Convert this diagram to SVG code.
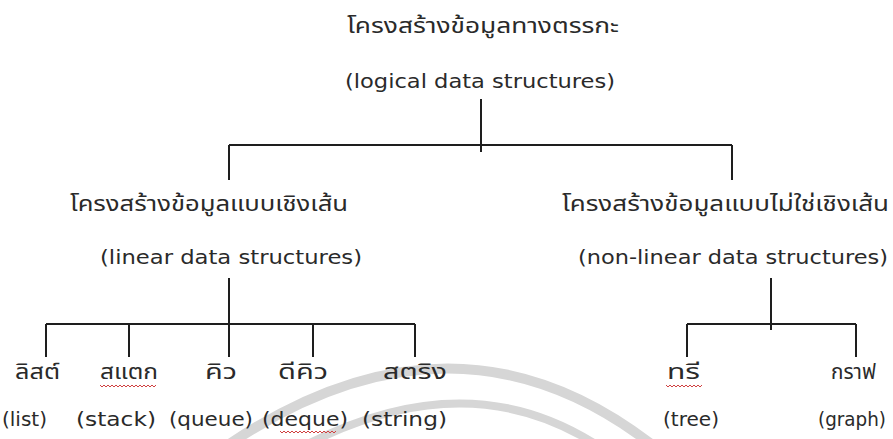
<svg xmlns="http://www.w3.org/2000/svg" width="893" height="439" viewBox="0 0 893 439">
<style>
.th{font-family:"Noto Sans Thai","Noto Sans","DejaVu Sans",sans-serif;font-size:21px;fill:#2a2a2a;}
.en{font-family:"DejaVu Sans","Liberation Sans",sans-serif;font-size:20px;fill:#2a2a2a;}
.ln{stroke:#1e1e1e;stroke-width:2;fill:none;}
.wm{stroke:#d6d6d6;fill:none;}
.sq{stroke:#d04040;stroke-width:1;fill:none;}
</style>
<rect width="893" height="439" fill="#ffffff"/>
<g id="watermark">
<path class="wm" stroke-width="10" d="M225 447 Q455 290 655 447"/>
<path class="wm" stroke-width="8" d="M302 447 Q468 360 600 447"/>
</g>
<g id="connectors">
<path class="ln" d="M481 99 V152 M229 145 H732 M229 145 V180 M732 145 V180"/>
<path class="ln" d="M229 278 V357 M46 324 H415 M46 324 V357 M129 324 V357 M313 324 V357 M415 324 V357"/>
<path class="ln" d="M771 278 V330 M687 324 H856 M687 324 V357 M856 324 V357"/>
</g>
<g id="root">
<text class="th" x="347" y="33" textLength="272" lengthAdjust="spacingAndGlyphs">โครงสร้างข้อมูลทางตรรกะ</text>
<text class="en" x="345" y="88" textLength="270" lengthAdjust="spacingAndGlyphs">(logical data structures)</text>
</g>
<g id="linear">
<text class="th" x="70" y="211" textLength="278" lengthAdjust="spacingAndGlyphs">โครงสร้างข้อมูลแบบเชิงเส้น</text>
<text class="en" x="100" y="264" textLength="262" lengthAdjust="spacingAndGlyphs">(linear data structures)</text>
</g>
<g id="nonlinear">
<text class="th" x="562" y="211" textLength="327" lengthAdjust="spacingAndGlyphs">โครงสร้างข้อมูลแบบไม่ใช่เชิงเส้น</text>
<text class="en" x="578" y="264" textLength="310" lengthAdjust="spacingAndGlyphs">(non-linear data structures)</text>
</g>
<g id="list">
<text class="th" x="15" y="379" textLength="45" lengthAdjust="spacingAndGlyphs">ลิสต์</text>
<text class="en" x="2" y="426" textLength="45" lengthAdjust="spacingAndGlyphs">(list)</text>
</g>
<g id="stack">
<text class="th" x="100" y="379" textLength="58" lengthAdjust="spacingAndGlyphs">สแตก</text>
<path class="sq" d="M100 385 l2 2 l2 -2 l2 2 l2 -2 l2 2 l2 -2 l2 2 l2 -2 l2 2 l2 -2 l2 2 l2 -2 l2 2 l2 -2 l2 2 l2 -2 l2 2 l2 -2 l2 2 l2 -2 l2 2 l2 -2 l2 2 l2 -2 l2 2 l2 -2 l2 2 l2 -2"/>
<text class="en" x="76" y="426" textLength="80" lengthAdjust="spacingAndGlyphs">(stack)</text>
</g>
<g id="queue">
<text class="th" x="205" y="379" textLength="32" lengthAdjust="spacingAndGlyphs">คิว</text>
<text class="en" x="169" y="426" textLength="84" lengthAdjust="spacingAndGlyphs">(queue)</text>
</g>
<g id="deque">
<text class="th" x="278" y="379" textLength="50" lengthAdjust="spacingAndGlyphs">ดีคิว</text>
<text class="en" x="262" y="426" textLength="86" lengthAdjust="spacingAndGlyphs">(deque)</text>
<path class="sq" d="M280 431 l2 2 l2 -2 l2 2 l2 -2 l2 2 l2 -2 l2 2 l2 -2 l2 2 l2 -2 l2 2 l2 -2 l2 2 l2 -2 l2 2 l2 -2 l2 2 l2 -2 l2 2 l2 -2 l2 2 l2 -2 l2 2 l2 -2 l2 2 l2 -2 l2 2 l2 -2"/>
</g>
<g id="string">
<text class="th" x="383" y="379" textLength="64" lengthAdjust="spacingAndGlyphs">สตริง</text>
<text class="en" x="362" y="426" textLength="85" lengthAdjust="spacingAndGlyphs">(string)</text>
</g>
<g id="tree">
<text class="th" x="667" y="379" textLength="33" lengthAdjust="spacingAndGlyphs">ทรี</text>
<path class="sq" d="M666 385 l2 2 l2 -2 l2 2 l2 -2 l2 2 l2 -2 l2 2 l2 -2 l2 2 l2 -2 l2 2 l2 -2 l2 2 l2 -2 l2 2 l2 -2 l2 2 l2 -2"/>
<text class="en" x="663" y="426" textLength="56" lengthAdjust="spacingAndGlyphs">(tree)</text>
</g>
<g id="graph">
<text class="th" x="831" y="379" textLength="45" lengthAdjust="spacingAndGlyphs">กราฟ</text>
<text class="en" x="818" y="426" textLength="68" lengthAdjust="spacingAndGlyphs">(graph)</text>
</g>
</svg>
